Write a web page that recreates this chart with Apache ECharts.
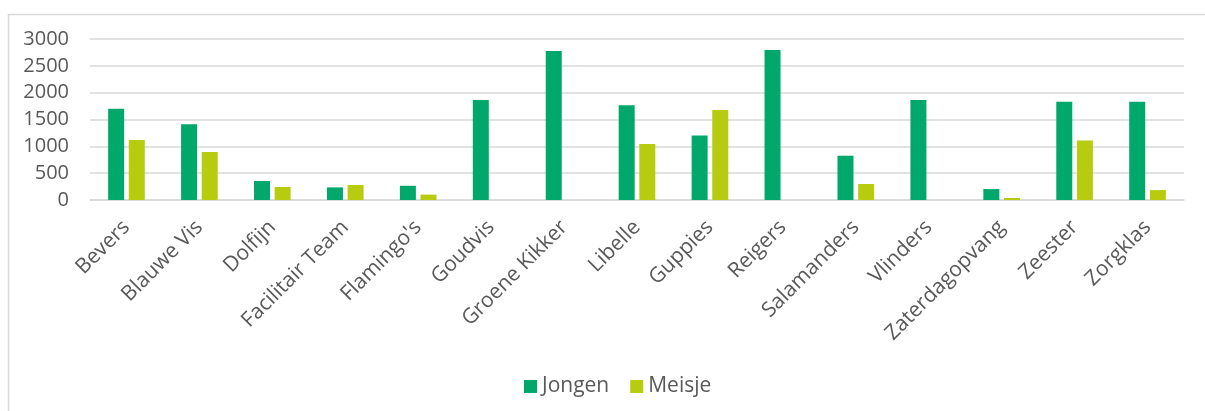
<!DOCTYPE html>
<html>
<head>
<meta charset="utf-8">
<title>Jongen / Meisje per groep</title>
<script src="https://cdn.jsdelivr.net/npm/echarts@6/dist/echarts.min.js"></script>
<style>
  html, body { margin: 0; padding: 0; background: #ffffff; }
  #chart { width: 1205px; height: 411px; }
</style>
</head>
<body>
<div id="chart"></div>
<script>
// Groups along the x axis
const categories = [
  'Bevers', 'Blauwe Vis', 'Dolfijn', 'Facilitair Team', "Flamingo's",
  'Goudvis', 'Groene Kikker', 'Libelle', 'Guppies', 'Reigers',
  'Salamanders', 'Vlinders', 'Zaterdagopvang', 'Zeester', 'Zorgklas'
];

// Counts per group
const jongen = [1700, 1410, 355, 235, 265, 1865, 2775, 1765, 1200, 2795, 825, 1865, 205, 1830, 1830];
const meisje = [1120, 895, 242, 280, 100, 0, 0, 1045, 1675, 0, 298, 0, 37, 1110, 185];

// Value axis ticks
const yMin = 0;
const yMax = 3000;
const yStep = 500;

const textColor = '#595959';
const font = 'Open Sans';

const chart = echarts.init(document.getElementById('chart'), null, { renderer: 'canvas' });

chart.setOption({
  animation: false,
  backgroundColor: '#ffffff',
  graphic: [{
    type: 'rect',
    left: 6, top: 12,
    shape: { width: 1400, height: 600 },
    style: { fill: 'none', stroke: '#d9d9d9', lineWidth: 1.5 },
    silent: true,
    z: -10
  }],
  grid: { left: 90, right: 21, top: 39, bottom: 211, containLabel: false },
  legend: {
    left: 519,
    top: 371,
    itemWidth: 13,
    itemHeight: 13,
    itemGap: 21,
    icon: 'rect',
    textStyle: { color: textColor, fontFamily: font, fontSize: 21, padding: [0, 0, 0, 0] },
    data: ['Jongen', 'Meisje']
  },
  xAxis: {
    type: 'category',
    data: categories,
    axisLine: { show: true, lineStyle: { color: '#d9d9d9', width: 1.5 } },
    axisTick: { show: false },
    axisLabel: {
      interval: 0,
      rotate: 45,
      margin: 24,
      color: textColor,
      fontFamily: font,
      fontSize: 21
    }
  },
  yAxis: {
    type: 'value',
    min: yMin,
    max: yMax,
    interval: yStep,
    axisLine: { show: false },
    axisTick: { show: false },
    splitLine: { lineStyle: { color: '#d9d9d9', width: 1.5 } },
    axisLabel: {
      margin: 21,
      color: textColor,
      fontFamily: font,
      fontSize: 20,
      formatter: (v) => String(v)
    }
  },
  series: [
    {
      name: 'Jongen',
      type: 'bar',
      data: jongen,
      barWidth: 16,
      barGap: '29%',
      itemStyle: { color: '#00A86B' }
    },
    {
      name: 'Meisje',
      type: 'bar',
      data: meisje,
      barWidth: 16,
      barGap: '29%',
      itemStyle: { color: '#B8CC0F' }
    }
  ]
});
</script>
</body>
</html>
